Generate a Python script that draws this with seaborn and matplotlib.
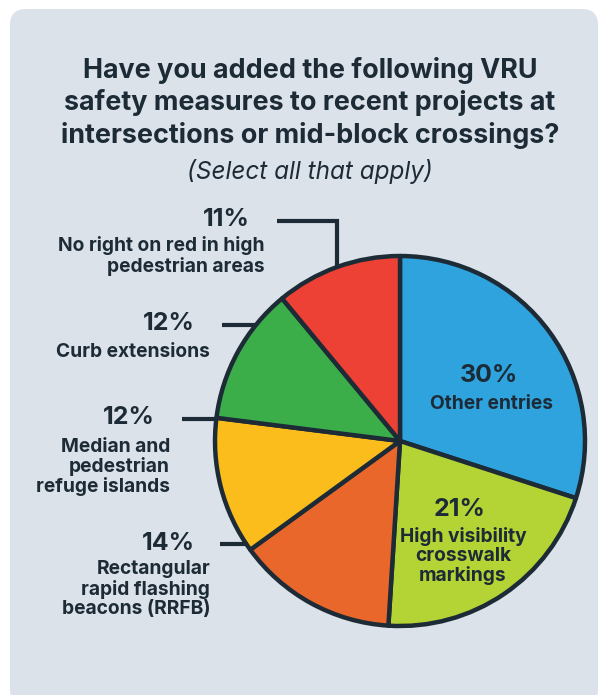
import matplotlib
matplotlib.use("Agg")
import matplotlib.pyplot as plt
from matplotlib.patches import FancyBboxPatch
import numpy as np
import seaborn as sns

sns.set_theme(style="white")
plt.rcParams["font.family"] = ["Inter", "DejaVu Sans"]

# Survey responses (share of respondents, %)
categories = [
    "Other entries",
    "High visibility\ncrosswalk\nmarkings",
    "Rectangular\nrapid flashing\nbeacons (RRFB)",
    "Median and\npedestrian\nrefuge islands",
    "Curb extensions",
    "No right on red in high\npedestrian areas",
]
shares = [30, 21, 14, 12, 12, 11]
colors = ["#2ea3de", "#b4d334", "#e9672a", "#fbbd1b", "#3bae4a", "#ee4136"]

INK = "#1d2b37"
PANEL = "#dbe2ea"
PCT_SIZE = 18
DESC_SIZE = 13.8

W, H = 599, 695
fig = plt.figure(figsize=(W / 100, H / 100), dpi=100)
fig.patch.set_facecolor("white")
ax = fig.add_axes([0, 0, 1, 1])

# y measured from the top of the canvas
def Y(y):
    return H - y

cx, cy, r = 400, Y(441), 185

ax.add_patch(FancyBboxPatch((10, Y(705)), 588, 696,
                            boxstyle="round,pad=0,rounding_size=16",
                            facecolor=PANEL, edgecolor="none", zorder=0))

wedges, _ = ax.pie(shares, colors=colors, startangle=90, counterclock=False,
                   center=(cx, cy), radius=r, frame=False,
                   wedgeprops=dict(edgecolor=INK, linewidth=3.2, joinstyle="round"))
for w in wedges:
    w.set_zorder(2)

ax.set_xlim(0, W)
ax.set_ylim(0, H)
ax.set_aspect("equal")
ax.axis("off")

# Title
ax.text(310, Y(103), "Have you added the following VRU\nsafety measures to recent projects at\nintersections or mid-block crossings?",
        ha="center", va="center", fontsize=19.4, fontweight="bold", color=INK,
        linespacing=1.24)
ax.text(310, Y(171), "(Select all that apply)", ha="center", va="center",
        fontsize=17.5, fontstyle="italic", color=INK)

def pct(v):
    return f"{v}%"

# Labels inside the two largest wedges
ax.text(489, Y(376), pct(shares[0]), ha="center", va="center",
        fontsize=PCT_SIZE, fontweight="bold", color=INK, zorder=3)
ax.text(492, Y(404), categories[0], ha="center", va="center",
        fontsize=DESC_SIZE, fontweight="bold", color=INK, zorder=3)
ax.text(460, Y(509), pct(shares[1]), ha="center", va="center",
        fontsize=PCT_SIZE, fontweight="bold", color=INK, zorder=3)
ax.text(463, Y(556), categories[1], ha="center", va="center",
        fontsize=DESC_SIZE, fontweight="bold", color=INK, zorder=3, linespacing=1.08)

# Outside labels with leader lines
# (percentage right edge, percentage y, description right edge, description y, line start x)
outside = {
    5: (250, 220, 265, 256, 277),
    4: (195, 324, 210, 352, 222),
    3: (155, 418, 170, 467, 182),
    2: (195, 543, 210, 589, 220),
}

def edge_x(yc):
    dy = yc - cy
    return cx - np.sqrt(r * r - dy * dy)

for i, (xp, yp, xd, yd, xs) in outside.items():
    ax.text(xp, Y(yp), pct(shares[i]), ha="right", va="center",
            fontsize=PCT_SIZE, fontweight="bold", color=INK)
    ax.text(xd, Y(yd), categories[i], ha="right", va="center",
            fontsize=DESC_SIZE, fontweight="bold", color=INK, linespacing=1.08)
    if i == 5:
        # elbow leader down to the middle of the wedge
        theta = np.deg2rad(90 + 360 * shares[5] / 100 / 2)
        ex = cx + r * np.cos(theta)
        ey = cy + r * np.sin(theta)
        ax.plot([xs, ex, ex], [Y(yp + 1), Y(yp + 1), ey], color=INK, lw=3,
                solid_joinstyle="miter", solid_capstyle="butt", zorder=1)
    else:
        ax.plot([xs, edge_x(Y(yp + 1))], [Y(yp + 1), Y(yp + 1)], color=INK, lw=3,
                solid_capstyle="butt", zorder=1)

fig.savefig("out.png", dpi=100, facecolor=fig.get_facecolor())
